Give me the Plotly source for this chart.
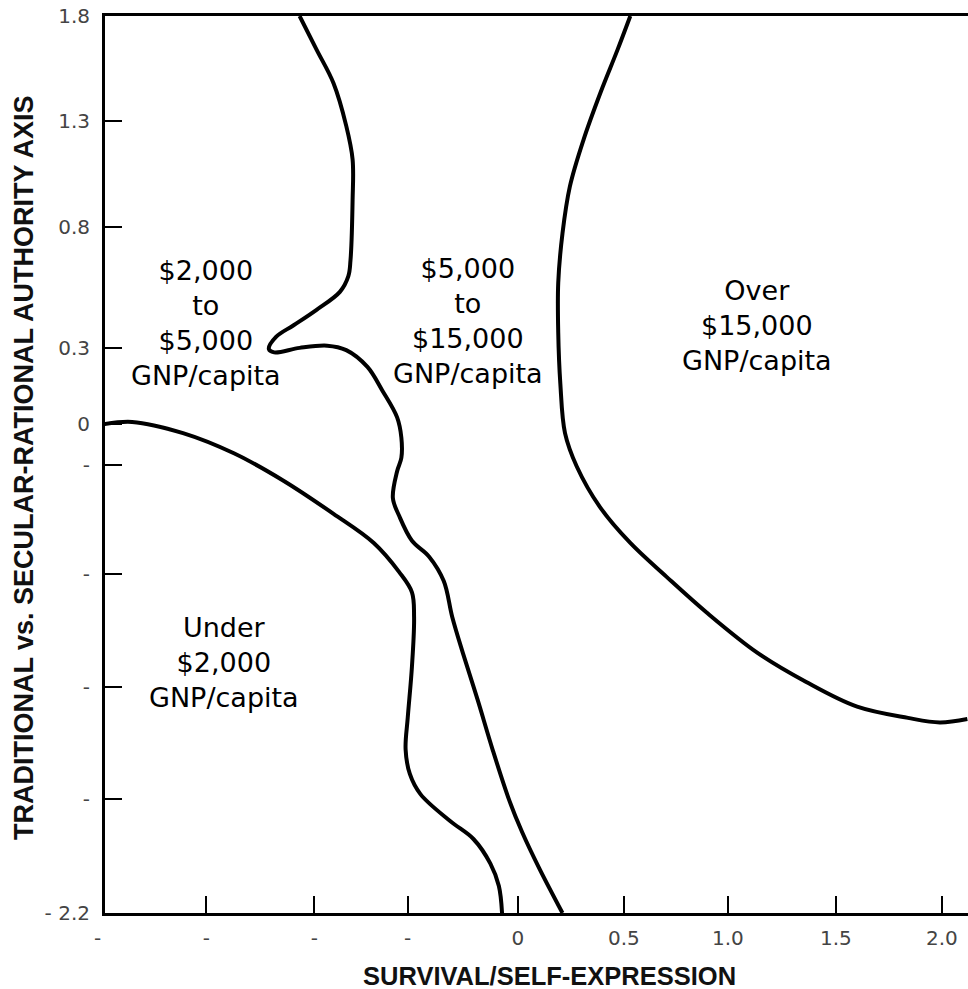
import plotly.graph_objects as go

# ---- Data ----
# Boundary of the "Under $2,000" region
under2k_x = [-1.95, -1.82, -1.58, -1.34, -1.11, -0.87, -0.68, -0.56, -0.50, -0.49, -0.50,
             -0.52, -0.53, -0.51, -0.46, -0.32, -0.21, -0.13, -0.09, -0.075]
under2k_y = [-0.02, -0.01, -0.06, -0.15, -0.27, -0.42, -0.55, -0.68, -0.77, -0.88, -1.10,
             -1.33, -1.47, -1.58, -1.67, -1.79, -1.87, -1.98, -2.08, -2.2]

# Boundary between "$2,000 to $5,000" and "$5,000 to $15,000"
mid_x = [-1.03, -0.95, -0.87, -0.81, -0.78, -0.78, -0.79, -0.80, -0.84, -0.95, -1.06, -1.14,
         -1.175, -1.15, -1.03, -0.90, -0.81, -0.71, -0.64, -0.57, -0.55, -0.55, -0.57, -0.59,
         -0.56, -0.50, -0.42, -0.35, -0.31, -0.26, -0.19, -0.12, -0.04, 0.02, 0.10, 0.21]
mid_y = [1.8, 1.65, 1.50, 1.31, 1.16, 0.98, 0.71, 0.64, 0.57, 0.49, 0.42, 0.37,
         0.315, 0.30, 0.32, 0.33, 0.31, 0.235, 0.13, 0.01, -0.08, -0.17, -0.23, -0.35,
         -0.43, -0.54, -0.61, -0.72, -0.88, -1.04, -1.25, -1.47, -1.70, -1.84, -2.0, -2.2]

# Boundary of the "Over $15,000" region
over15k_x = [0.53, 0.47, 0.39, 0.31, 0.245, 0.21, 0.19, 0.19, 0.20, 0.222, 0.278,
             0.387, 0.53, 0.70, 0.89, 1.13, 1.36, 1.60, 1.84, 1.99, 2.12]
over15k_y = [1.8, 1.65, 1.46, 1.25, 1.04, 0.83, 0.61, 0.39, 0.16, -0.06, -0.21,
             -0.39, -0.55, -0.70, -0.86, -1.04, -1.17, -1.28, -1.33, -1.35, -1.335]

# Region labels
labels = ["$2,000<br>to<br>$5,000<br>GNP/capita",
          "$5,000<br>to<br>$15,000<br>GNP/capita",
          "Over<br>$15,000<br>GNP/capita",
          "Under<br>$2,000<br>GNP/capita"]

# Axis ticks (as printed in the original)
x_tickvals = [-1.47, -0.96, -0.52, 0.0, 0.5, 0.99, 1.5, 2.0]
x_ticktext = ["-", "-", "-", "0", "0.5", "1.0", "1.5", "2.0"]
y_tickvals = [1.8, 1.33, 0.86, 0.32, -0.02, -0.2, -0.69, -1.19, -1.69, -2.2]
y_ticktext = ["1.8", "1.3", "0.8", "0.3", "0", "-", "-", "-", "-", "- 2.2"]

x_title = "SURVIVAL/SELF-EXPRESSION"
y_title = "TRADITIONAL vs. SECULAR-RATIONAL AUTHORITY AXIS"

# ---- Figure ----
fig = go.Figure()
line_style = dict(color="black", width=4, shape="spline", smoothing=1.0)
for xs, ys in [(under2k_x, under2k_y), (mid_x, mid_y), (over15k_x, over15k_y)]:
    fig.add_trace(go.Scatter(x=xs, y=ys, mode="lines", line=line_style,
                             hoverinfo="skip", showlegend=False, cliponaxis=True))

label_font = dict(family="DejaVu Sans", size=27, color="black")
label_pos = [(-1.47, 0.43), (-0.236, 0.44), (1.127, 0.418), (-1.387, -1.085)]
for txt, (ax, ay) in zip(labels, label_pos):
    fig.add_annotation(x=ax, y=ay, xref="x", yref="y", text=txt, showarrow=False,
                       font=label_font, align="center", xanchor="center", yanchor="middle")

tick_font = dict(family="DejaVu Sans", size=20, color="#444444")
x_title_font = dict(family="Liberation Sans", size=25.5, color="#111111", weight="bold")
y_title_font = dict(family="Liberation Sans", size=27, color="#111111", weight="bold")

fig.add_annotation(x=0.515, y=-0.0705, xref="paper", yref="paper", text=x_title,
                   showarrow=False, font=x_title_font, xanchor="center", yanchor="middle")
fig.add_annotation(x=-0.094, y=0.497, xref="paper", yref="paper", text=y_title,
                   showarrow=False, font=y_title_font, textangle=-90,
                   xanchor="center", yanchor="middle")
# stray "-" tick label left of the frame
fig.add_annotation(x=-0.009, y=-0.028, xref="paper", yref="paper", text="-",
                   showarrow=False, font=tick_font, xanchor="center", yanchor="middle")

fig.update_xaxes(range=[-1.948, 2.123], showgrid=False, zeroline=False,
                 showline=True, linecolor="black", linewidth=3, mirror=True,
                 ticks="inside", ticklen=17, tickwidth=2, tickcolor="black",
                 tickvals=x_tickvals, ticktext=x_ticktext, tickfont=tick_font,
                 ticklabelstandoff=5)
fig.update_yaxes(range=[-2.2, 1.8], showgrid=False, zeroline=False,
                 showline=True, linecolor="black", linewidth=3, mirror=False,
                 ticks="inside", ticklen=17, tickwidth=2, tickcolor="black",
                 tickvals=y_tickvals, ticktext=y_ticktext, tickfont=tick_font,
                 ticklabelstandoff=8)

fig.update_layout(width=968, height=989,
                  margin=dict(l=105, r=0, t=16, b=76),
                  plot_bgcolor="white", paper_bgcolor="white",
                  showlegend=False)

fig.write_html("out.html", config={"displayModeBar": False},
               post_script="document.body.style.margin='0';"
                           "document.body.style.overflow='hidden';")
